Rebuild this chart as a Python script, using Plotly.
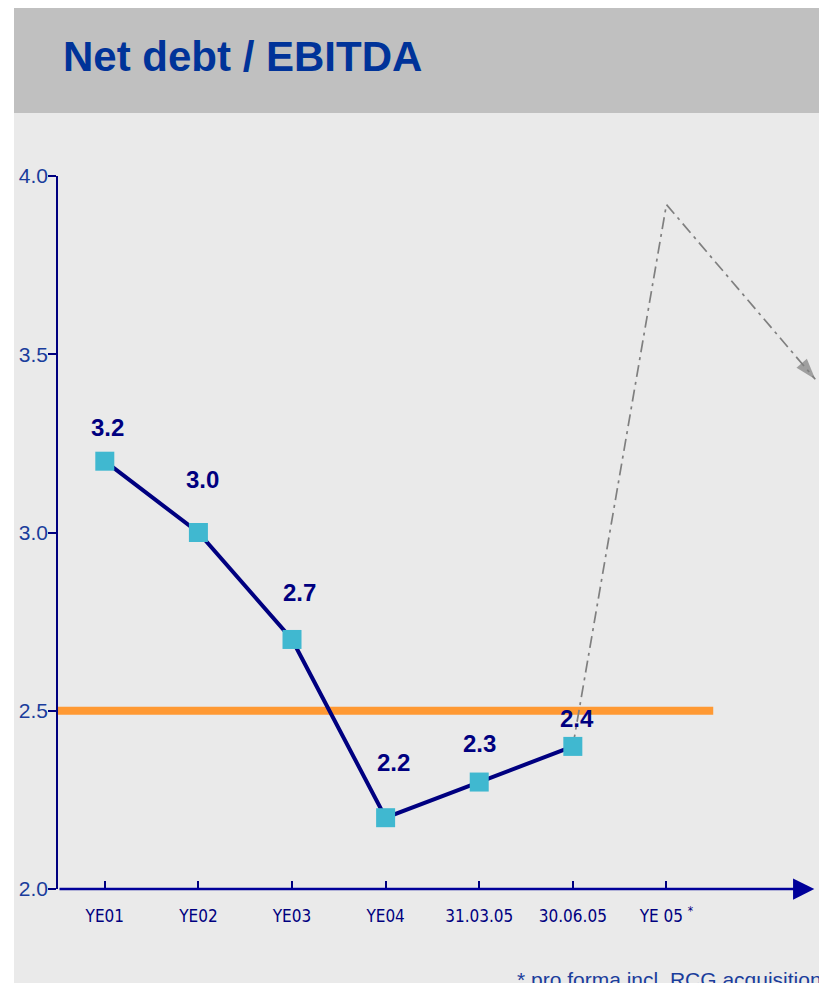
import plotly.graph_objects as go

# ---------------- data ----------------
categories = ["YE01", "YE02", "YE03", "YE04", "31.03.05", "30.06.05", "YE 05"]
tick_labels = ["YE01", "YE02", "YE03", "YE04", "31.03.05", "30.06.05", "YE 05 <sup>*</sup>"]
ratio_values = [3.2, 3.0, 2.7, 2.2, 2.3, 2.4]
value_labels = ["3.2", "3.0", "2.7", "2.2", "2.3", "2.4"]
target_level = 2.5
proj_positions = [5, 6, 7.59]          # category index positions of the projection path
proj_values = [2.4, 3.92, 3.43]
y_ticks = [2.0, 2.5, 3.0, 3.5, 4.0]

# label offsets (pixels) as in the original slide
label_dx = [3, 4, 7, 8, 0, 4]
label_dy = [34, 53, 47, 55, 39, 28]

NAVY = "#000080"
BLUE_TXT = "#1a3d9c"
NARROW = "Liberation Sans Narrow, DejaVu Sans Condensed, Arial Narrow, Liberation Sans, sans-serif"
SANS = "Liberation Sans, Arial, sans-serif"

W, H = 819, 983
L, R, T, B = 58, 0, 176, 94
PW, PH = W - L - R, H - T - B


def px_x(p):
    return (p - L) / PW


def px_y(p):
    return (H - B - p) / PH


fig = go.Figure()

# projection (dash-dot grey with arrow head)
fig.add_trace(go.Scatter(
    x=proj_positions, y=proj_values, mode="lines+markers",
    line=dict(color="#7F7F7F", width=1.7, dash="12px,5px,3px,5px"),
    marker=dict(symbol=["circle", "circle", "arrow"], size=[0, 0, 22],
                angleref="previous", color="#7F7F7F", line=dict(width=0)),
    hoverinfo="skip", showlegend=False, cliponaxis=False,
))

# main series
fig.add_trace(go.Scatter(
    x=list(range(len(ratio_values))), y=ratio_values, mode="lines+markers",
    line=dict(color=NAVY, width=4),
    marker=dict(symbol="square", size=19, color="#40B8D0", line=dict(width=0)),
    showlegend=False, cliponaxis=False,
))

shapes = [
    # light panel
    dict(type="rect", xref="paper", yref="paper", x0=px_x(14), x1=px_x(W + 5),
         y0=px_y(H + 5), y1=px_y(113), fillcolor="#EAEAEA", line=dict(width=0), layer="below"),
    # title band
    dict(type="rect", xref="paper", yref="paper", x0=px_x(14), x1=px_x(W + 5),
         y0=px_y(113), y1=px_y(8), fillcolor="#C0C0C0", line=dict(width=0), layer="below"),
    # target line
    dict(type="line", xref="x", yref="y", x0=-0.5, x1=6.5, y0=target_level, y1=target_level,
         line=dict(color="#FF9933", width=8), layer="below"),
]

annotations = [
    dict(text="<b>Net debt / EBITDA</b>", xref="paper", yref="paper",
         x=px_x(61), y=px_y(56), xanchor="left", yanchor="middle", showarrow=False,
         font=dict(family=SANS, size=42, color="#003399")),
    # x axis with arrow head
    dict(x=7.58, y=2.0, ax=-0.5, ay=2.0, xref="x", yref="y", axref="x", ayref="y",
         showarrow=True, arrowhead=2, arrowsize=1.7, arrowwidth=2.5, arrowcolor="#00009A", text=""),
    dict(text="* pro forma incl. RCG acquisition", xref="paper", yref="paper",
         x=px_x(515), y=px_y(979), xanchor="left", yanchor="middle", showarrow=False,
         font=dict(family=SANS, size=21, color=BLUE_TXT)),
]

for i, (v, t) in enumerate(zip(ratio_values, value_labels)):
    annotations.append(dict(
        x=i, y=v, xref="x", yref="y", text=f"<b>{t}</b>", showarrow=False,
        xshift=label_dx[i], yshift=label_dy[i],
        font=dict(family=SANS, size=24, color=NAVY)))

fig.update_layout(
    width=W, height=H,
    margin=dict(l=L, r=R, t=T, b=B, pad=0),
    paper_bgcolor="white", plot_bgcolor="rgba(0,0,0,0)",
    shapes=shapes, annotations=annotations,
    xaxis=dict(range=[-0.5, 7.63], tickmode="array", tickvals=list(range(len(categories))),
               ticktext=tick_labels, ticks="inside", ticklen=8, tickwidth=1.5, tickcolor=NAVY,
               showline=False, showgrid=False, zeroline=False, ticklabelstandoff=15,
               tickfont=dict(family=NARROW, size=17, color=NAVY), fixedrange=True),
    yaxis=dict(range=[2.0, 4.0], tickmode="array", tickvals=y_ticks,
               ticktext=[f"{v:.1f}" for v in y_ticks], ticks="outside", ticklen=8,
               tickwidth=1.5, tickcolor=NAVY, showline=True, linecolor=NAVY, linewidth=1.5,
               showgrid=False, zeroline=False, ticklabelstandoff=-4,
               tickfont=dict(family=SANS, size=21, color=BLUE_TXT), fixedrange=True),
)

fig.write_html("out.html")
